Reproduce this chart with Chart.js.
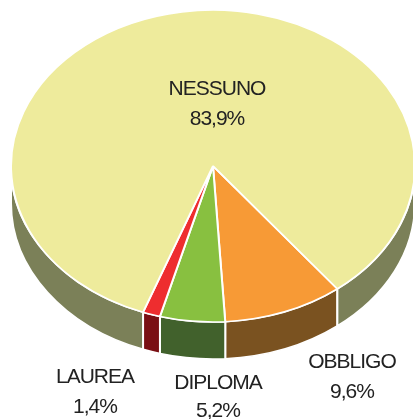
<!DOCTYPE html>
<html>
<head>
<meta charset="utf-8">
<script src="https://cdn.jsdelivr.net/npm/chart.js@4"></script>
<style>
    html, body { margin: 0; padding: 0; background: #fff; overflow: hidden; }
    canvas { display: block; }
</style>
</head>
<body>
<canvas id="pie" width="416" height="419"></canvas>
<script>
const categories = ["OBBLIGO", "DIPLOMA", "LAUREA", "NESSUNO"];
const percentages = [9.6, 5.2, 1.4, 83.9];
const percentLabels = ["9,6%", "5,2%", "1,4%", "83,9%"];
const topColors = ["#f79a36", "#88c040", "#ee2d2f", "#eeeb9c"];
const sideColors = ["#7a5220", "#41612c", "#7a0f14", "#7b8058"];

// where the two text lines sit: [centre x, first baseline, second baseline]
const labelSpots = [[352, 368, 398], [218, 389, 417], [95, 383, 413], [217, 95, 125]];

const squash = 0.772;
const centerY = 166;
const depth = 37;

// the pie is drawn flat by Chart.js, this tilts it and adds the rim
const tiltPlugin = {
    id: "tilt",
    beforeDatasetsDraw(chart) {
        const ctx = chart.ctx;
        const arcs = chart.getDatasetMeta(0).data;
        ctx.save();
        ctx.translate(0, centerY - arcs[0].y * squash);
        ctx.scale(1, squash);

        const drop = depth / squash;
        arcs.forEach((arc, i) => {
            // only the part facing the viewer (0..PI on the canvas) has a visible rim
            [0, -2 * Math.PI].forEach((shift) => {
                const from = Math.max(arc.startAngle + shift, 0);
                const to = Math.min(arc.endAngle + shift, Math.PI);
                if (to <= from) return;
                ctx.beginPath();
                ctx.arc(arc.x, arc.y, arc.outerRadius, from, to);
                ctx.arc(arc.x, arc.y + drop, arc.outerRadius, to, from, true);
                ctx.closePath();
                ctx.fillStyle = sideColors[i];
                ctx.fill();
                ctx.strokeStyle = "#ffffff";
                ctx.lineWidth = 2;
                ctx.stroke();
            });
        });
    },
    afterDatasetsDraw(chart) {
        chart.ctx.restore();
    },
    afterDraw(chart) {
        const ctx = chart.ctx;
        ctx.save();
        ctx.fillStyle = "#222222";
        ctx.font = "21px 'Liberation Sans'";
        ctx.letterSpacing = "-1px";
        ctx.textAlign = "center";
        categories.forEach((name, i) => {
            const [x, y1, y2] = labelSpots[i];
            ctx.fillText(name, x, y1);
            ctx.fillText(percentLabels[i], x, y2);
        });
        ctx.restore();
    },
};

new Chart(document.getElementById("pie"), {
    type: "pie",
    data: {
        labels: categories,
        datasets: [{
            data: percentages,
            backgroundColor: topColors,
            borderColor: "#ffffff",
            borderWidth: 2,
            clip: false,
        }],
    },
    options: {
        responsive: false,
        animation: false,
        rotation: 142,
        layout: { padding: { left: 10, right: 0, top: 0, bottom: 0 } },
        plugins: { legend: { display: false }, tooltip: { enabled: false } },
    },
    plugins: [tiltPlugin],
});
</script>
</body>
</html>
